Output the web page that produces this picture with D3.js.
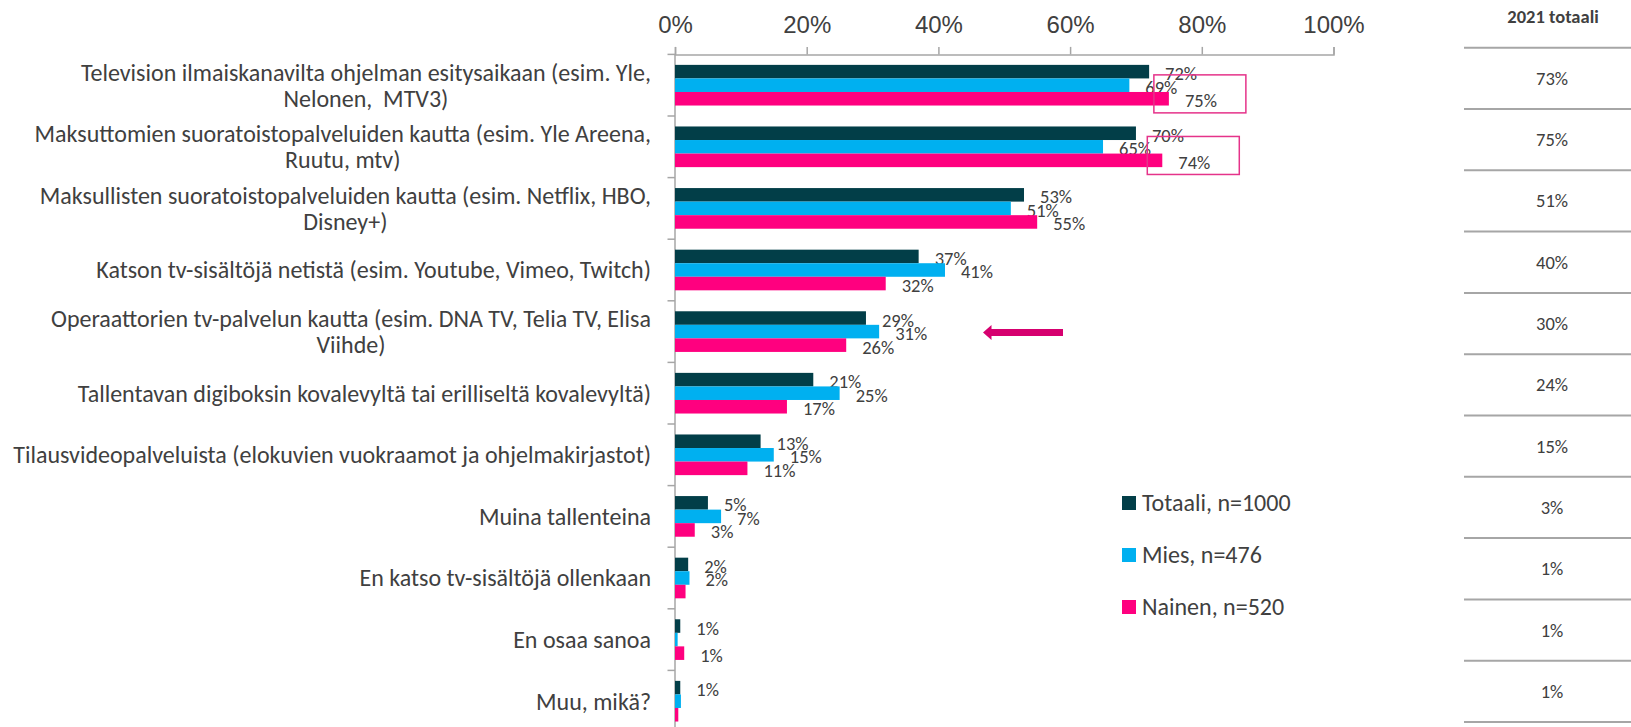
<!DOCTYPE html>
<html>
<head>
<meta charset="utf-8">
<script src="https://cdn.jsdelivr.net/npm/d3@7"></script>
<style>
  body { margin: 0; background: #fff; }
  svg { display: block; font-family: Carlito, Calibri, Lato, sans-serif; }
  text { fill: #404040; }
</style>
</head>
<body>
<svg width="1631" height="727"></svg>
<script>
  const categories = [
    ["Television ilmaiskanavilta ohjelman esitysaikaan (esim. Yle,", "Nelonen,  MTV3)"],
    ["Maksuttomien suoratoistopalveluiden kautta (esim. Yle Areena,", "Ruutu, mtv)"],
    ["Maksullisten suoratoistopalveluiden kautta (esim. Netflix, HBO,", "Disney+)"],
    ["Katson tv-sisältöjä netistä (esim. Youtube, Vimeo, Twitch)"],
    ["Operaattorien tv-palvelun kautta (esim. DNA TV, Telia TV, Elisa", "Viihde)"],
    ["Tallentavan digiboksin kovalevyltä tai erilliseltä kovalevyltä)"],
    ["Tilausvideopalveluista (elokuvien vuokraamot ja ohjelmakirjastot)"],
    ["Muina tallenteina"],
    ["En katso tv-sisältöjä ollenkaan"],
    ["En osaa sanoa"],
    ["Muu, mikä?"]
  ];
  const seriesNames = ["Totaali, n=1000", "Mies, n=476", "Nainen, n=520"];
  const seriesColors = ["#023e48", "#00b0f0", "#ff007f"];
  const totaali = [72, 70, 53, 37, 29, 21, 13, 5, 2, 0.8, 0.8];
  const mies = [69, 65, 51, 41, 31, 25, 15, 7, 2.2, 0.4, 0.9];
  const nainen = [75, 74, 55, 32, 26, 17, 11, 3, 1.6, 1.4, 0.5];
  // labels that were removed in the original
  const hiddenLabels = [[], [9, 10], [8, 10]];
  const total2021 = ["73%", "75%", "51%", "40%", "30%", "24%", "15%", "3%", "1%", "1%", "1%"];
  const xTicks = [0, 20, 40, 60, 80, 100];
  const highlighted = [0, 1];

  const svg = d3.select("svg");
  const series = [totaali, mies, nainen];

  const x = d3.scaleLinear().domain([0, 100]).range([675, 1333.5]);
  const y = d3.scaleBand()
    .domain(d3.range(categories.length))
    .range([54.4, 54.4 + categories.length * 61.6])
    .paddingInner(0.34)
    .paddingOuter(0.17);
  const ySub = d3.scaleBand().domain(d3.range(series.length)).range([0, y.bandwidth()]);
  const pct = d3.format(".0f");

  // top axis
  const xAxis = svg.append("g")
    .attr("transform", "translate(0,54.4)")
    .call(d3.axisTop(x).tickValues(xTicks).tickSize(7.5).tickPadding(14).tickFormat(d => d + "%"));
  xAxis.selectAll("path, line").attr("stroke", "#a6a6a6").attr("stroke-width", 1.5);
  xAxis.selectAll("text").attr("font-size", 24).attr("fill", "#404040").attr("font-family", null);

  // left axis with ticks between the groups
  const yAxis = svg.append("g").attr("transform", "translate(675,0)");
  yAxis.append("line")
    .attr("y1", y.range()[0]).attr("y2", y.range()[1])
    .attr("stroke", "#a6a6a6").attr("stroke-width", 1.5);
  yAxis.selectAll(".tick")
    .data(d3.range(categories.length + 1))
    .join("line")
    .attr("x1", -7.5).attr("x2", 0)
    .attr("y1", d => y.range()[0] + d * y.step())
    .attr("y2", d => y.range()[0] + d * y.step())
    .attr("stroke", "#a6a6a6").attr("stroke-width", 1.5);

  // category labels (multi-line labels centred inside a right-aligned block)
  const labelRight = 651;
  const lineH = 26;
  categories.forEach((lines, i) => {
    const cy = y(i) + y.bandwidth() / 2;
    const g = svg.append("g");
    const texts = g.selectAll("text")
      .data(lines)
      .join("text")
      .attr("font-size", 24)
      .attr("dy", "0.35em")
      .attr("y", (d, k) => cy + (k - (lines.length - 1) / 2) * lineH)
      .style("white-space", "pre")
      .text(d => d);
    const widths = texts.nodes().map(n => n.getComputedTextLength());
    const maxW = d3.max(widths);
    texts.attr("text-anchor", "middle").attr("x", labelRight - maxW / 2);
  });

  // bars
  const groups = svg.append("g").selectAll("g")
    .data(series)
    .join("g")
    .attr("fill", (d, s) => seriesColors[s]);

  groups.selectAll("rect")
    .data((vals, s) => vals.map((v, i) => ({ v, i, s })))
    .join("rect")
    .attr("x", x(0))
    .attr("y", d => y(d.i) + ySub(d.s))
    .attr("width", d => x(d.v) - x(0))
    .attr("height", ySub.bandwidth());

  // value labels
  groups.selectAll("text")
    .data((vals, s) => vals.map((v, i) => ({ v, i, s })).filter(d => !hiddenLabels[d.s].includes(d.i)))
    .join("text")
    .attr("x", d => x(d.v) + 16)
    .attr("y", d => y(d.i) + ySub(d.s) + ySub.bandwidth() / 2 + 2)
    .attr("dy", "0.35em")
    .attr("font-size", 18.5)
    .attr("fill", "#404040")
    .text(d => pct(d.v) + "%");

  // highlight boxes around the top two rows' female labels
  svg.append("g").selectAll("rect")
    .data(highlighted)
    .join("rect")
    .attr("x", d => x(nainen[d]) - 15)
    .attr("y", d => y(d) + 10)
    .attr("width", 92)
    .attr("height", 38)
    .attr("fill", "none")
    .attr("stroke", "#e5338a")
    .attr("stroke-width", 1.5);

  // arrow pointing at the operator row
  const ay = y(4) + y.bandwidth() / 2 + 1;
  svg.append("path")
    .attr("d", `M983,${ay} L991.5,${ay - 7.5} L991.5,${ay - 3.5} L1063,${ay - 3.5} L1063,${ay + 3.5} L991.5,${ay + 3.5} L991.5,${ay + 7.5} Z`)
    .attr("fill", "#d6006f");

  // legend
  const legend = svg.append("g").selectAll("g")
    .data(seriesNames)
    .join("g")
    .attr("transform", (d, i) => `translate(1122,${503 + i * 52})`);
  legend.append("rect")
    .attr("y", -7).attr("width", 14).attr("height", 14)
    .attr("fill", (d, i) => seriesColors[i]);
  legend.append("text")
    .attr("x", 20).attr("dy", "0.35em")
    .attr("font-size", 24)
    .text(d => d);

  // 2021 column
  const rowY = d3.scaleBand().domain(d3.range(total2021.length)).range([47.7, 47.7 + total2021.length * 61.3]);
  const table = svg.append("g");
  table.append("text")
    .attr("x", 1553).attr("y", 17).attr("dy", "0.35em")
    .attr("text-anchor", "middle").attr("font-weight", "bold").attr("font-size", 18.5)
    .text("2021 totaali");
  table.selectAll("line")
    .data(d3.range(total2021.length + 1))
    .join("line")
    .attr("x1", 1464).attr("x2", 1631)
    .attr("y1", d => rowY.range()[0] + d * rowY.step())
    .attr("y2", d => rowY.range()[0] + d * rowY.step())
    .attr("stroke", "#a6a6a6").attr("stroke-width", 2);
  table.selectAll(".val")
    .data(total2021)
    .join("text")
    .attr("class", "val")
    .attr("x", 1552).attr("y", (d, i) => rowY(i) + rowY.bandwidth() / 2)
    .attr("dy", "0.35em").attr("text-anchor", "middle").attr("font-size", 18.5)
    .text(d => d);
</script>
</body>
</html>
